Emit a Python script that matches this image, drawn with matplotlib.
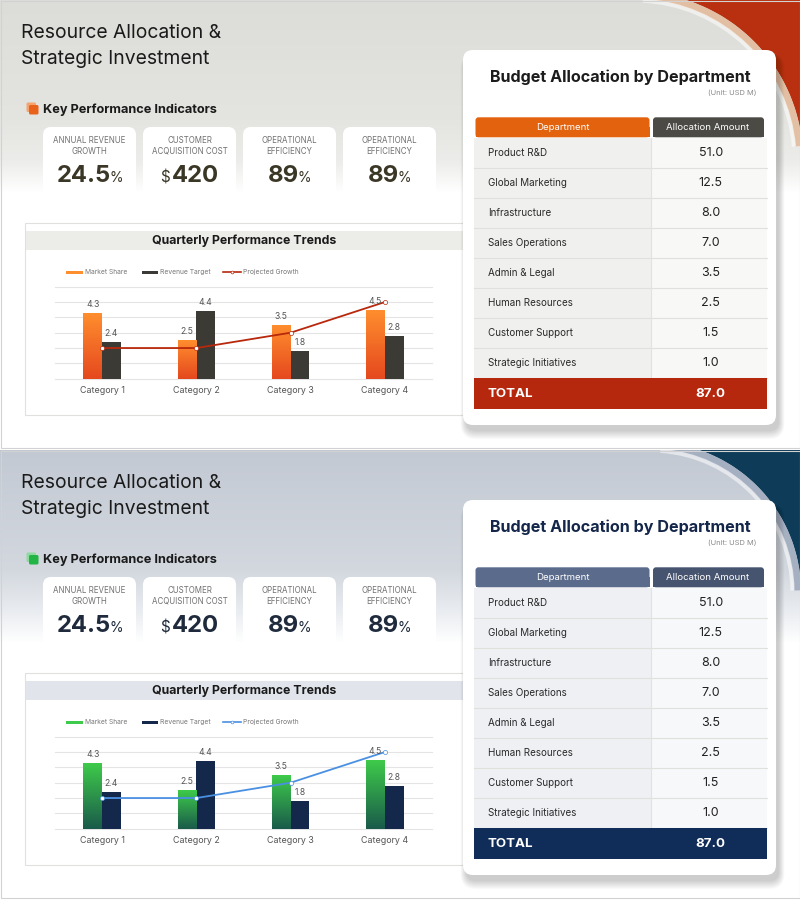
import numpy as np
import matplotlib.pyplot as plt
from matplotlib.patches import FancyBboxPatch, Rectangle, Polygon, Arc
from matplotlib.colors import to_rgb, LinearSegmentedColormap

plt.rcParams['font.family'] = ['Inter', 'DejaVu Sans']

# ---- data ----
categories = ['Category 1', 'Category 2', 'Category 3', 'Category 4']
market_share = [4.3, 2.5, 3.5, 4.5]
revenue_target = [2.4, 4.4, 1.8, 2.8]
projected_growth = [2.0, 2.0, 3.0, 5.0]

departments = ['Product R&D', 'Global Marketing', 'Infrastructure', 'Sales Operations',
               'Admin & Legal', 'Human Resources', 'Customer Support', 'Strategic Initiatives']
allocations = [51.0, 12.5, 8.0, 7.0, 3.5, 2.5, 1.5, 1.0]

kpi_labels = ['ANNUAL REVENUE\nGROWTH', 'CUSTOMER\nACQUISITION COST',
              'OPERATIONAL\nEFFICIENCY', 'OPERATIONAL\nEFFICIENCY']
kpi_values = ['24.5', '420', '89', '89']
kpi_prefix = ['', '$', '', '']
kpi_suffix = ['%', '', '%', '%']

# ---- two colour themes (top / bottom panel) ----
themes = [
    dict(off=0, bg=[(0, '#dcdcd8'), (120, '#e4e4e0'), (160, '#ececea'), (192, '#ffffff')],
         decor='#b83010', band='#e3bea0', circ=(635, 160, 168),
         icon=('#f5a470', '#e8621b'), value='#3b3726', head='#ececE8',
         ms=('#e5481e', '#ff8e2e'), rt='#3b3a34', line='#b8280c',
         th_left='#e2620d', th_right='#4b4a45', row_left='#f0f0ee', row_right='#f8f8f6',
         total='#b5280e', ttl='#1c1c1c'),
    dict(off=450, bg=[(450, '#c3c9d3'), (570, '#d3d8df'), (610, '#e9ecf0'), (642, '#ffffff')],
         decor='#0e3b58', band='#a3aec0', circ=(651, 592, 150),
         icon=('#8fd9a0', '#22b545'), value='#1f2b3d', head='#e1e5eb',
         ms=('#1a5a4a', '#3ecb4b'), rt='#13284a', line='#4a90e2',
         th_left='#5a6b8c', th_right='#475470', row_left='#eef0f4', row_right='#f7f8fa',
         total='#102c58', ttl='#14264a'),
]

fig = plt.figure(figsize=(8, 9), dpi=100)
bg = fig.add_axes([0, 0, 1, 1])
bg.set_xlim(0, 800)
bg.set_ylim(900, 0)
bg.axis('off')
renderer = fig.canvas.get_renderer()

# background gradient
img = np.ones((900, 800, 3))
rows = np.arange(900)
for th in themes:
    ys = [s[0] for s in th['bg']]
    cols = np.array([to_rgb(s[1]) for s in th['bg']])
    lo, hi = th['off'], th['off'] + 448
    for c in range(3):
        img[lo:hi, :, c] = np.interp(rows[lo:hi], ys, cols[:, c])[:, None]
img[448:450] = 1.0
bg.imshow(img, extent=[0, 800, 900, 0], aspect='auto', zorder=0)


def rbox(x, y, w, h, r, fc, ec='none', lw=0, z=2, alpha=1.0):
    p = FancyBboxPatch((x + r, y + r), w - 2 * r, h - 2 * r, boxstyle=f'round,pad={r}',
                       fc=fc, ec=ec, lw=lw, zorder=z, alpha=alpha)
    bg.add_patch(p)
    return p


for th in themes:
    off = th['off']
    clip = Rectangle((0, off), 800, 448, transform=bg.transData)

    # corner decoration
    cx, cy, r = th['circ']
    a1 = np.arctan2(cy - off, np.sqrt(r ** 2 - (cy - off) ** 2))
    a2 = np.arctan2(np.sqrt(max(r ** 2 - (800 - cx) ** 2, 0)), 800 - cx)
    ang = np.linspace(a1, a2, 80)
    pts = list(zip(cx + r * np.cos(ang), cy - r * np.sin(ang))) + [(800, off)]
    poly = Polygon(pts, closed=True, fc=th['decor'], ec='none', zorder=1)
    bg.add_patch(poly)
    poly.set_clip_path(clip)
    t1 = -np.degrees(a1) - 15
    t2 = -np.degrees(a2) + 6
    for rr, lw, col, al in [(r - 3.5, 5, th['band'], 0.95), (r - 8.5, 3, '#ffffff', 0.55)]:
        arc = Arc((cx, cy), 2 * rr, 2 * rr, theta1=t1, theta2=t2, color=col, lw=lw, alpha=al, zorder=1)
        bg.add_patch(arc)
        arc.set_clip_path(clip)

    bg.add_patch(Rectangle((0.5, off + 0.5), 799, 447, fc='none', ec='#d2d2d2', lw=0.8, zorder=6))

    # title
    bg.text(21, off + 37.5, 'Resource Allocation &', fontsize=13.9, color='#1a1a1a', va='baseline', zorder=3)
    bg.text(21, off + 63.5, 'Strategic Investment', fontsize=13.9, color='#1a1a1a', va='baseline', zorder=3)

    # KPI heading
    rbox(26.5, off + 102.5, 9.5, 9.5, 1.5, th['icon'][0], z=3)
    rbox(29, off + 105, 9.5, 9.5, 1.5, th['icon'][1], z=3)
    bg.text(43, off + 113.3, 'Key Performance Indicators', fontsize=9.2, fontweight='bold',
            color='#1a1a1a', va='baseline', zorder=3)

    # KPI cards
    for i in range(4):
        x0 = 43 + 100 * i
        cxk = x0 + 46.5
        rbox(x0, off + 127, 93, 80, 8, 'white', z=2)
        bg.text(cxk, off + 146, kpi_labels[i], fontsize=5.7, color='#707070', ha='center',
                va='center', linespacing=1.25, zorder=3)
        yb = off + 182.5
        tm = bg.text(0, yb, kpi_values[i], fontsize=17.2, fontweight='bold', color=th['value'],
                     va='baseline', zorder=3)
        wm = tm.get_window_extent(renderer).width
        tp = bg.text(0, yb, kpi_prefix[i], fontsize=11, color=th['value'], va='baseline', zorder=3)
        wp = tp.get_window_extent(renderer).width if kpi_prefix[i] else 0
        ts = bg.text(0, yb, kpi_suffix[i], fontsize=10, color=th['value'], va='baseline', zorder=3)
        ws = ts.get_window_extent(renderer).width if kpi_suffix[i] else 0
        gap = 2.5 if kpi_prefix[i] else 0
        tight = -1.5 if kpi_suffix[i] else 0
        start = cxk - (wp + gap + wm + tight + ws) / 2
        tp.set_x(start)
        tm.set_x(start + wp + gap)
        ts.set_x(start + wp + gap + wm + tight)

    # chart box
    bg.add_patch(Rectangle((25, off + 223), 438, 192, fc='white', ec='#e0e0dc', lw=0.8, zorder=2))
    bg.add_patch(Rectangle((25.5, off + 231), 437, 18.5, fc=th['head'], ec='none', zorder=2))
    bg.text(244, off + 240.5, 'Quarterly Performance Trends', fontsize=8.9, fontweight='bold',
            color='#1a1a1a', ha='center', va='center', zorder=3)

    # legend
    ly = off + 272.3
    bg.add_patch(Rectangle((66, ly - 1.8), 16.5, 3.6, fc=th['ms'][1], zorder=3))
    bg.text(85, ly, 'Market Share', fontsize=4.8, color='#777777', va='center', zorder=3)
    bg.add_patch(Rectangle((142, ly - 1.8), 16, 3.6, fc=th['rt'], zorder=3))
    bg.text(160.5, ly, 'Revenue Target', fontsize=4.8, color='#777777', va='center', zorder=3)
    bg.plot([223, 241], [ly, ly], color=th['line'], lw=1.2, zorder=3)
    bg.plot([232], [ly], marker='o', ms=2, mfc='white', mec=th['line'], mew=0.5, zorder=3)
    bg.text(243, ly, 'Projected Growth', fontsize=4.8, color='#777777', va='center', zorder=3)

    # table card with shadow
    tx, ty, tw, tht = 463, off + 50, 313, 375
    for k in range(10):
        rbox(tx + 3 - k * 0.6, ty + 6 - k * 0.3, tw + k * 1.2, tht + k * 1.2, 10 + k * 0.6,
             'black', z=3, alpha=0.018)
    rbox(tx, ty, tw, tht, 10, 'white', z=4)
    bg.text(620, off + 81.7, 'Budget Allocation by Department', fontsize=11.6, fontweight='bold',
            color=th['ttl'], ha='center', va='baseline', zorder=5)
    bg.text(757, off + 92.7, '(Unit: USD M)', fontsize=5.4, color='#8a8a8a', ha='right',
            va='center', zorder=5)

    # table header
    for hx, hw, hc, lab, hcx in [(475.5, 174, th['th_left'], 'Department', 562.5),
                                  (653, 111, th['th_right'], 'Allocation Amount', 708)]:
        rbox(hx, off + 117.3, hw, 20, 3, hc, z=5)
        bg.add_patch(Rectangle((hx, off + 127), hw, 10.3, fc=hc, ec='none', zorder=5))
        bg.text(hcx, off + 127.3, lab, fontsize=6.9, color='white', ha='center', va='center', zorder=6)

    # table rows
    rh = 30
    y0 = off + 138.3
    for i, (dep, val) in enumerate(zip(departments, allocations)):
        yr = y0 + i * rh
        bg.add_patch(Rectangle((474, yr), 176.5, rh, fc=th['row_left'], ec='none', zorder=5))
        bg.add_patch(Rectangle((650.5, yr), 116.5, rh, fc=th['row_right'], ec='none', zorder=5))
        bg.plot([474, 767], [yr + rh, yr + rh], color='#e0e0dc', lw=0.8, zorder=6)
        bg.text(488, yr + rh / 2, dep, fontsize=7.1, color='#2a2a2a', va='center', zorder=6)
        bg.text(710.7, yr + rh / 2, f'{val:.1f}', fontsize=9, color='#222222', ha='center',
                va='center', zorder=6)
    bg.plot([650.5, 650.5], [y0, y0 + 8 * rh], color='#e2e2de', lw=0.8, zorder=6)

    # total row
    yt = y0 + 8 * rh
    bg.add_patch(Rectangle((474, yt), 293, 31, fc=th['total'], ec='none', zorder=6))
    bg.text(488, yt + 15.5, 'TOTAL', fontsize=9.6, fontweight='bold', color='white', va='center', zorder=7)
    bg.text(710.7, yt + 15.5, f'{sum(allocations):.1f}', fontsize=9.6, fontweight='bold',
            color='white', ha='center', va='center', zorder=7)

    # bar / line chart
    base = 378.7 + off
    ax = fig.add_axes([55 / 800, 1 - base / 900, 377 / 800, 92 / 900])
    ax.patch.set_alpha(0)
    x = np.arange(len(categories))
    w = 0.2
    b1 = ax.bar(x - w / 2, market_share, w, color=th['ms'][1], zorder=2)
    ax.bar(x + w / 2, revenue_target, w, color=th['rt'], zorder=2)
    cmap = LinearSegmentedColormap.from_list('g', list(th['ms']))
    grad = np.linspace(0, 1, 256).reshape(-1, 1)
    for bar in b1:
        bx, by = bar.get_xy()
        im = ax.imshow(grad, extent=[bx, bx + bar.get_width(), 0, bar.get_height()],
                       aspect='auto', cmap=cmap, origin='lower', zorder=2.1)
        im.set_clip_path(bar)
    ax.plot(x, projected_growth, color=th['line'], lw=1.3, marker='o', ms=3,
            mfc='white', mec=th['line'], mew=0.5, zorder=3)
    for xi, v in zip(x - w / 2, market_share):
        ax.annotate(f'{v}', (xi, v), xytext=(0, 3), textcoords='offset points', ha='center',
                    va='bottom', fontsize=6.2, color='#555555')
    for xi, v in zip(x + w / 2, revenue_target):
        ax.annotate(f'{v}', (xi, v), xytext=(0, 3), textcoords='offset points', ha='center',
                    va='bottom', fontsize=6.2, color='#555555')
    ax.set_xlim(-0.5, 3.5)
    ax.set_ylim(0, 6)
    ax.set_yticks(range(7))
    ax.grid(axis='y', color='#e4e4e4', lw=0.8, clip_on=False)
    ax.set_axisbelow(True)
    ax.set_xticks(x, categories)
    ax.tick_params(left=False, labelleft=False, bottom=False, labelsize=6.4,
                   labelcolor='#555555', pad=2)
    for s in ax.spines.values():
        s.set_visible(False)

fig.savefig('out.png', dpi=100)
